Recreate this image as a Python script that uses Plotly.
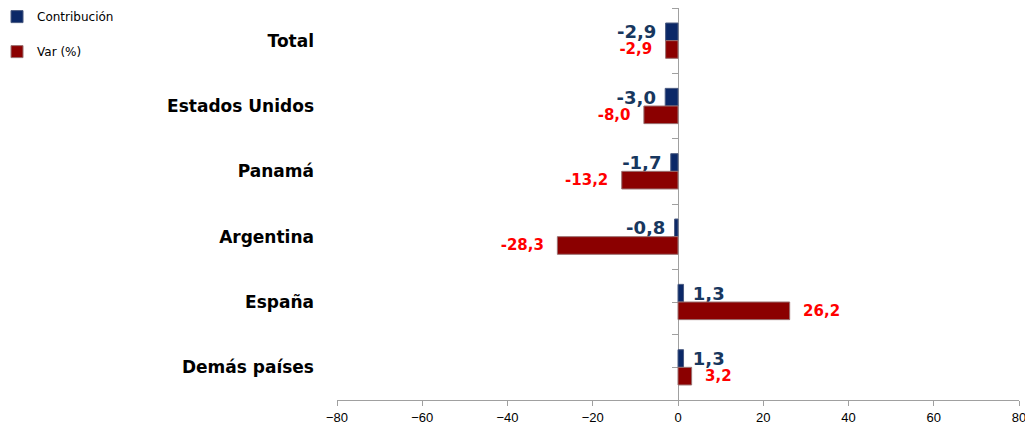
import plotly.graph_objects as go

# Data
categories = ["Total", "Estados Unidos", "Panamá", "Argentina", "España", "Demás países"]
contribucion = [-2.9, -3.0, -1.7, -0.8, 1.3, 1.3]
variacion = [-2.9, -8.0, -13.2, -28.3, 26.2, 3.2]
x_ticks = [-80, -60, -40, -20, 0, 20, 40, 60, 80]


def fmt(values, pad):
    # Excel-style comma decimals, padded away from the bar end
    out = []
    for v in values:
        s = f"{v:.1f}".replace(".", ",")
        out.append(s + pad if v < 0 else pad + s)
    return out


fig = go.Figure()

fig.add_trace(go.Bar(
    y=categories, x=contribucion, orientation="h", name="Contribución",
    marker=dict(color="#0B2867", line=dict(color="#4A5A80", width=1)),
    text=fmt(contribucion, "\u00a0"), textposition="outside", constraintext="none",
    textfont=dict(family="DejaVu Sans", size=18, color="#17375E", weight="bold"),
    cliponaxis=False, legendgroup="a",
))
fig.add_trace(go.Bar(
    y=categories, x=variacion, orientation="h", name="Var (%)",
    marker=dict(color="#8B0000", line=dict(color="#9A7070", width=1)),
    text=fmt(variacion, "\u00a0\u00a0"), textposition="outside", constraintext="none",
    textfont=dict(family="DejaVu Sans", size=15, color="#FF0000", weight="bold"),
    cliponaxis=False, legendgroup="b",
))

# vertical axis line at zero with tick marks every half category
fig.add_trace(go.Scatter(x=[0, 0], y=[-0.5, 5.5], yaxis="y2", mode="lines",
                         line=dict(width=0), showlegend=False, hoverinfo="skip"))

# note: the page body has an 8px margin, so margins are shifted to compensate
fig.update_layout(
    width=1033, height=425,
    margin=dict(l=329, r=22, t=0, b=33, autoexpand=False),
    paper_bgcolor="white", plot_bgcolor="white",
    barmode="group", bargap=0.46, bargroupgap=0,
    font=dict(family="DejaVu Sans", color="black"),
    xaxis=dict(
        range=[-80, 80], tickvals=x_ticks, ticks="outside", ticklen=5,
        tickcolor="#A0A0A0", showline=True, linecolor="#A0A0A0", linewidth=1,
        showgrid=False, zeroline=True, zerolinecolor="#A0A0A0", zerolinewidth=1,
        tickfont=dict(family="Liberation Sans", size=13, color="black"),
    ),
    yaxis=dict(
        autorange="reversed", showgrid=False, showline=False, ticks="",
        tickfont=dict(family="DejaVu Sans", size=17, color="black", weight="bold"),
        ticklabelstandoff=22,
    ),
    yaxis2=dict(
        overlaying="y", anchor="free", position=0.5, side="left",
        range=[5.5, -0.5], tickvals=[i / 2 - 0.5 for i in range(13)],
        showticklabels=False, ticks="outside", ticklen=6, tickcolor="#A0A0A0",
        showline=True, linecolor="#A0A0A0", showgrid=False, zeroline=False,
        layer="below traces",
    ),
    legend=dict(
        x=-0.4985, y=1.015, xanchor="left", yanchor="top",
        font=dict(family="DejaVu Sans", size=12, color="black"),
        tracegroupgap=16, itemwidth=30, bgcolor="rgba(0,0,0,0)",
    ),
)

fig.write_html("out.html")
